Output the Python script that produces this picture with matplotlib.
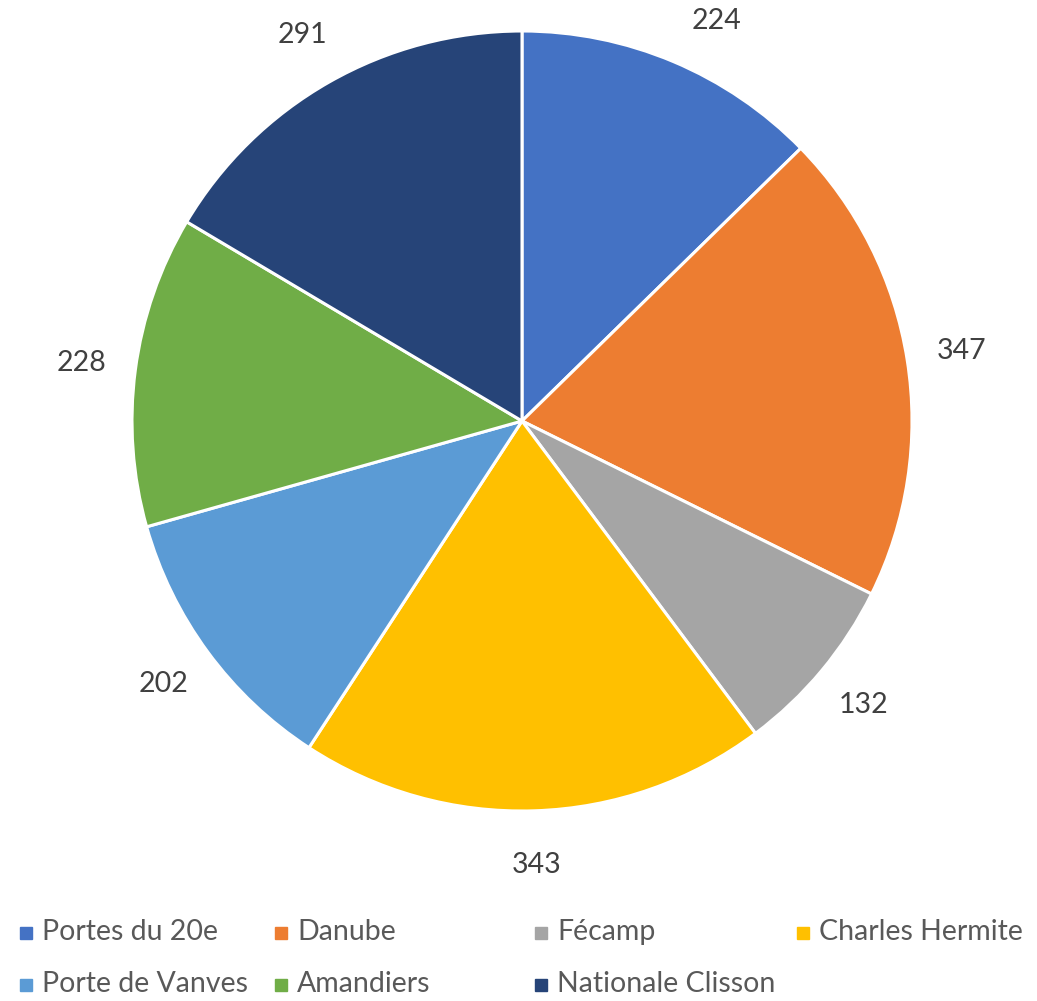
import matplotlib
matplotlib.use('Agg')
import matplotlib.pyplot as plt
import matplotlib.patches as patches
import numpy as np

# données
noms = ['Portes du 20e', 'Danube', 'Fécamp', 'Charles Hermite',
        'Porte de Vanves', 'Amandiers', 'Nationale Clisson']
valeurs = [224, 347, 132, 343, 202, 228, 291]
couleurs = ['#4472C4', '#ED7D31', '#A5A5A5', '#FFC000',
            '#5B9BD5', '#70AD47', '#264478']

plt.rcParams['font.family'] = ['Lato', 'DejaVu Sans']

W, H = 1037, 1001
fig = plt.figure(figsize=(W / 100, H / 100), dpi=100, facecolor='white')

# pie: centre (522, 421) px, rayon 390 px
cx, cy, r = 522, 421, 390
ax = fig.add_axes([(cx - r) / W, (H - cy - r) / H, 2 * r / W, 2 * r / H])

dist = 1.14
wedges, texts = ax.pie(valeurs, colors=couleurs, startangle=90, counterclock=False,
                       labels=[str(v) for v in valeurs], labeldistance=dist,
                       wedgeprops={'edgecolor': 'white', 'linewidth': 2.2},
                       textprops={'fontsize': 20.5, 'color': '#404040'})
for t in texts:
    t.set_horizontalalignment('center')
    t.set_verticalalignment('center')
    # comme Excel : on garde l'étiquette dans le cadre
    x, y = t.get_position()
    if y > 1.025:
        t.set_position((np.sign(x) * np.sqrt(dist ** 2 - 1.025 ** 2), 1.025))
ax.set_xlim(-1, 1)
ax.set_ylim(-1, 1)
ax.set_aspect('equal')
ax.axis('off')

# légende manuelle, 4 colonnes sur 2 lignes
cols_x = [20, 275, 535, 797]
for i, nom in enumerate(noms):
    col, row = i % 4, i // 4
    x0 = cols_x[col]
    y0 = 933 + row * 52
    fig.patches.append(patches.Rectangle((x0 / W, (H - y0 - 6) / H), 12 / W, 12 / H,
                                         transform=fig.transFigure, color=couleurs[i]))
    fig.text((x0 + 22) / W, (H - y0 + 1) / H, nom, fontsize=20.5, color='#595959',
             ha='left', va='center')

fig.savefig('out.png', dpi=100, facecolor='white')
